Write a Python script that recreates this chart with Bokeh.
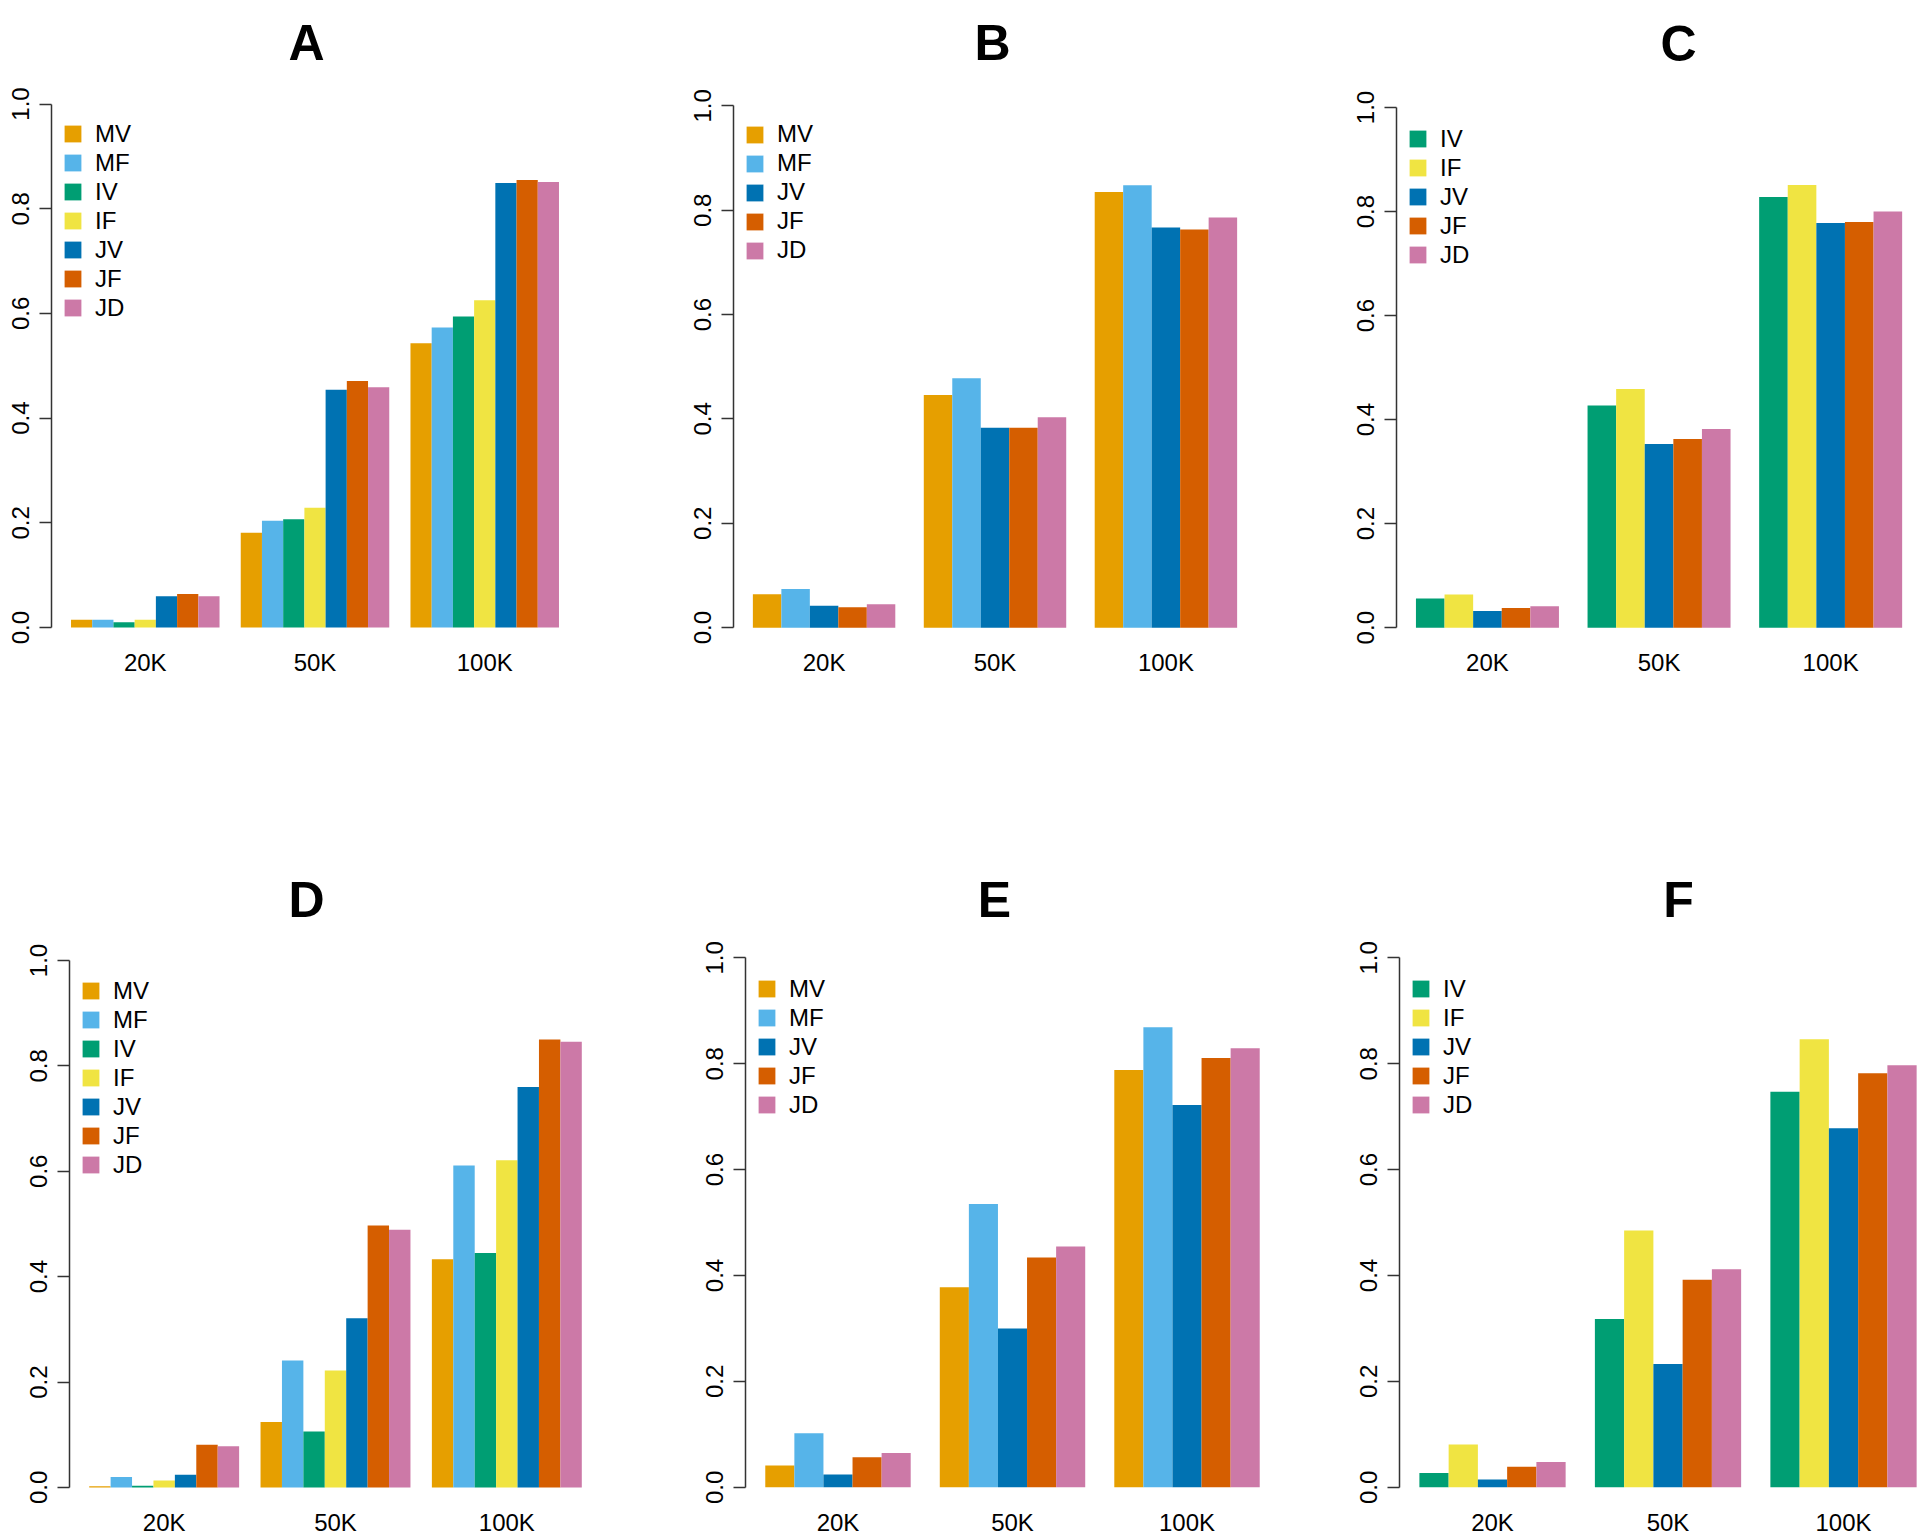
from bokeh.plotting import figure
from bokeh.models import Range1d, LinearAxis, FixedTicker, Legend, LegendItem, PrintfTickFormatter, Label
from bokeh.layouts import row, column
from bokeh.embed import file_html
from bokeh.resources import INLINE

# ---------------- data ----------------
groups = ["20K", "50K", "100K"]
y_ticks = [0.0, 0.2, 0.4, 0.6, 0.8, 1.0]

colors = {
    "MV": "#E69F00", "MF": "#56B4E9", "IV": "#009E73", "IF": "#F0E442",
    "JV": "#0072B2", "JF": "#D55E00", "JD": "#CC79A7",
}

# Panel A
A_series = ["MV", "MF", "IV", "IF", "JV", "JF", "JD"]
A_MV = [0.015, 0.181, 0.543]
A_MF = [0.015, 0.204, 0.573]
A_IV = [0.010, 0.207, 0.594]
A_IF = [0.015, 0.229, 0.625]
A_JV = [0.060, 0.454, 0.849]
A_JF = [0.064, 0.471, 0.855]
A_JD = [0.060, 0.459, 0.851]

# Panel B
B_series = ["MV", "MF", "JV", "JF", "JD"]
B_MV = [0.064, 0.446, 0.835]
B_MF = [0.074, 0.478, 0.848]
B_JV = [0.042, 0.383, 0.767]
B_JF = [0.039, 0.383, 0.763]
B_JD = [0.045, 0.403, 0.786]

# Panel C
C_series = ["IV", "IF", "JV", "JF", "JD"]
C_IV = [0.056, 0.427, 0.828]
C_IF = [0.064, 0.459, 0.851]
C_JV = [0.032, 0.353, 0.778]
C_JF = [0.038, 0.363, 0.780]
C_JD = [0.041, 0.382, 0.800]

# Panel D
D_series = ["MV", "MF", "IV", "IF", "JV", "JF", "JD"]
D_MV = [0.002, 0.124, 0.433]
D_MF = [0.020, 0.241, 0.611]
D_IV = [0.003, 0.106, 0.445]
D_IF = [0.013, 0.222, 0.621]
D_JV = [0.024, 0.321, 0.760]
D_JF = [0.081, 0.497, 0.850]
D_JD = [0.078, 0.489, 0.846]

# Panel E
E_series = ["MV", "MF", "JV", "JF", "JD"]
E_MV = [0.041, 0.378, 0.788]
E_MF = [0.102, 0.535, 0.869]
E_JV = [0.024, 0.300, 0.722]
E_JF = [0.057, 0.434, 0.811]
E_JD = [0.065, 0.455, 0.829]

# Panel F
F_series = ["IV", "IF", "JV", "JF", "JD"]
F_IV = [0.027, 0.318, 0.747]
F_IF = [0.081, 0.485, 0.846]
F_JV = [0.015, 0.233, 0.678]
F_JF = [0.039, 0.392, 0.782]
F_JD = [0.048, 0.412, 0.797]

FONT = "Liberation Sans"
AXIS_COLOR = "#333333"
ITEM_H = 28
SPACING = 1


def make_panel(letter, names, vals, fig_x0, fig_y0, width, height,
               frame_left, unit, y0_px, y1_px, title_cx, title_base, leg_cy):
    n = len(names)
    span_units = 3 * (n + 1) - 1
    x_start = 1 - 0.04 * span_units
    x_end_default = 3 * (n + 1) + 0.04 * span_units
    bl = int(round(frame_left - fig_x0))
    avail = width - bl
    x_end = min(x_end_default, x_start + avail / unit)
    fw = int(round((x_end - x_start) * unit))
    br = max(0, width - bl - fw)

    span = y0_px - y1_px
    y_end = 1 + (y1_px - fig_y0) / span
    fh = int(round((y0_px - fig_y0) + 0.04 * span))
    bb = height - fh

    p = figure(width=width, height=height,
               x_range=Range1d(x_start, x_end), y_range=Range1d(-0.04, y_end),
               x_axis_type=None, y_axis_type=None,
               toolbar_location=None, output_backend="svg",
               min_border_left=bl, min_border_right=br,
               min_border_top=0, min_border_bottom=bb)
    p.outline_line_color = None
    p.background_fill_color = "white"
    p.border_fill_color = "white"

    items = []
    for i, name in enumerate(names):
        xs = [1 + g * (n + 1) + i + 0.5 for g in range(3)]
        r = p.vbar(x=xs, top=vals[i], bottom=0, width=1.0,
                   fill_color=colors[name], line_color=None)
        items.append(LegendItem(label=name, renderers=[r]))

    yaxis = LinearAxis(bounds=(0, 1),
                       ticker=FixedTicker(ticks=y_ticks),
                       formatter=PrintfTickFormatter(format="%.1f"),
                       major_label_orientation="vertical",
                       major_tick_out=12, major_tick_in=0,
                       minor_tick_out=0, minor_tick_in=0,
                       axis_line_color=AXIS_COLOR, axis_line_width=1.5,
                       major_tick_line_color=AXIS_COLOR, major_tick_line_width=1.5,
                       major_label_standoff=10,
                       major_label_text_font=FONT,
                       major_label_text_font_size="24px",
                       major_label_text_color="black")
    p.add_layout(yaxis, "left")

    centers = [1 + g * (n + 1) + n / 2 for g in range(3)]
    xaxis = LinearAxis(ticker=FixedTicker(ticks=centers),
                       major_label_overrides={c: lab for c, lab in zip(centers, groups)},
                       axis_line_color=None, major_tick_line_color=None,
                       minor_tick_line_color=None,
                       major_tick_out=0, major_tick_in=0,
                       minor_tick_out=0, minor_tick_in=0,
                       major_label_standoff=0,
                       major_label_text_font=FONT,
                       major_label_text_font_size="24px",
                       major_label_text_color="black")
    p.add_layout(xaxis, "below")

    # panel letter
    unit_x = fw / (x_end - x_start)
    tx = x_start + (title_cx - frame_left) / unit_x
    ty = (y0_px - title_base) / span
    p.add_layout(Label(x=tx, y=ty, text=letter, text_align="center",
                       text_baseline="alphabetic", text_font=FONT,
                       text_font_size="50px", text_font_style="bold",
                       text_color="black"))

    # legend (top-left inside the plot area)
    L = n * ITEM_H + (n - 1) * SPACING
    leg_top = (leg_cy - 10.5) - fig_y0
    ly = fh - leg_top - L
    legend = Legend(items=items, location=(11, ly), orientation="vertical",
                    border_line_color=None, background_fill_alpha=0,
                    padding=0, margin=0, spacing=SPACING,
                    glyph_width=21, glyph_height=21, label_height=21,
                    label_standoff=12,
                    label_text_font=FONT, label_text_font_size="24px",
                    label_text_color="black")
    p.add_layout(legend)
    return p


TOP_H = 708
BOT_H = 1538 - TOP_H

pA = make_panel("A", A_series, [A_MV, A_MF, A_IV, A_IF, A_JV, A_JF, A_JD],
                0, 0, 648, TOP_H, 51, 21.22, 630, 104, 306, 43, 133)
pB = make_panel("B", B_series, [B_MV, B_MF, B_JV, B_JF, B_JD],
                648, 0, 640, TOP_H, 733, 28.5, 631, 106, 992, 43, 134.5)
pC = make_panel("C", C_series, [C_IV, C_IF, C_JV, C_JF, C_JD],
                1288, 0, 632, TOP_H, 1396, 28.6, 627, 107, 1678, 43, 135)
pD = make_panel("D", D_series, [D_MV, D_MF, D_IV, D_IF, D_JV, D_JF, D_JD],
                0, TOP_H, 648, BOT_H, 69, 21.4, 1490, 961, 306, 900, 990)
pE = make_panel("E", E_series, [E_MV, E_MF, E_JV, E_JF, E_JD],
                648, TOP_H, 640, BOT_H, 745, 29.1, 1489, 958, 994, 900, 987)
pF = make_panel("F", F_series, [F_IV, F_IF, F_JV, F_JF, F_JD],
                1288, TOP_H, 632, BOT_H, 1399, 29.25, 1489, 958, 1678, 900, 987)

layout = column(row(pA, pB, pC), row(pD, pE, pF))
open("out.html", "w").write(file_html(layout, INLINE))
